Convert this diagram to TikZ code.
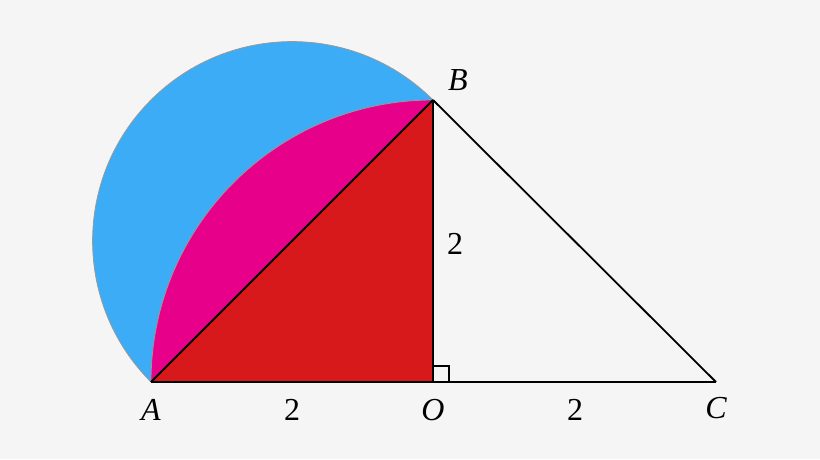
\documentclass[tikz,border=0pt]{standalone}
\usepackage{fontspec}
\setmainfont{Liberation Serif}
\usetikzlibrary{calc}
\begin{document}
\begin{tikzpicture}[x=1pt,y=1pt,
  lbl/.style={font=\fontsize{32}{32}\selectfont\itshape, inner sep=0pt},
  num/.style={font=\fontsize{32}{32}\selectfont, inner sep=0pt},
  edge/.style={black, line width=1.8pt},
  arcline/.style={draw=gray!80, line width=0.8pt}]
\definecolor{bg}{HTML}{F5F5F5}
\definecolor{skyblue}{HTML}{3BACF5}
\definecolor{magenta2}{HTML}{E6008A}
\definecolor{redtri}{HTML}{D7191C}
\fill[bg] (0,0) rectangle (820,459);
\useasboundingbox (0,0) rectangle (820,459);
\coordinate (A) at (151,77);
\coordinate (O) at (433,77);
\coordinate (B) at (433,359);
\coordinate (C) at (716,77);
% blue semicircle on AB
\fill[skyblue] (B) arc[start angle=45, end angle=225, radius=199.4] -- cycle;
\draw[arcline] (B) arc[start angle=45, end angle=225, radius=199.4];
% pink segment
\fill[magenta2] (B) arc[start angle=90, end angle=180, radius=282] -- cycle;
\draw[arcline] (B) arc[start angle=90, end angle=180, radius=282];
% red triangle
\fill[redtri] (A) -- (O) -- (B) -- cycle;
% right angle
\draw[black, line width=1.1pt] ($(O)+(0,16)$) -- ++(16,0) -- ++(0,-16);
\draw[edge] (A) -- (O);
\draw[edge] (O) -- (C);
\draw[edge] (O) -- (B);
\draw[edge] (A) -- (B);
\draw[edge] (B) -- (C);
\node[lbl] (lA) at (151,49) {A};
\node[lbl] (lO) at (433,49) {O};
\node[lbl] (lB) at (458,379) {B};
\node[lbl] (lC) at (716,51) {C};
\node[num] (n1) at (292,49) {2};
\node[num] (n2) at (575,49) {2};
\node[num] (n3) at (455,215) {2};
\end{tikzpicture}
\end{document}
